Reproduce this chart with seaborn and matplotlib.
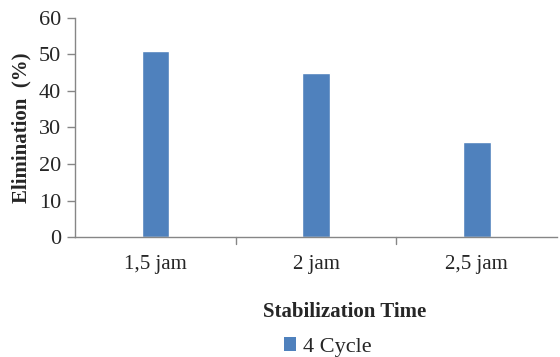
import matplotlib
matplotlib.use("Agg")
import matplotlib.pyplot as plt
import seaborn as sns
import pandas as pd
from matplotlib.patches import Patch

categories = ["1,5 jam", "2 jam", "2,5 jam"]
values = [51, 45, 26]
series_name = "4 Cycle"
yticks = [0, 10, 20, 30, 40, 50, 60]

sns.set_theme(style="white")
plt.rcParams["font.family"] = ["Liberation Serif", "DejaVu Serif"]

df = pd.DataFrame({"time": categories, "elim": values})

fig = plt.figure(figsize=(5.6, 3.57), dpi=100)
ax = fig.add_axes([0.134, 0.336, 0.861, 0.614])
bar_color = "#4F81BD"
sns.barplot(data=df, x="time", y="elim", color=bar_color, width=0.17,
            saturation=1, ax=ax)

ax.set_ylim(0, 60)
ax.set_xlim(-0.5, len(categories) - 0.5)
ax.set_yticks(yticks)
ax.set_yticklabels([str(t) for t in yticks], fontsize=16)
ax.set_xticks(range(len(categories)))
ax.set_xticklabels(categories, fontsize=15)
ax.tick_params(axis="x", length=0, pad=13)
ax.tick_params(axis="y", length=6, width=1, color="#868686", direction="out", pad=4, left=True)

# category boundary ticks on the x axis
for b in [0.5, 1.5]:
    ax.plot([b, b], [0, -1.8], color="#868686", lw=1, clip_on=False)

for side in ["top", "right"]:
    ax.spines[side].set_visible(False)
for side in ["left", "bottom"]:
    ax.spines[side].set_color("#868686")
    ax.spines[side].set_linewidth(1)

ax.set_xlabel("Stabilization Time", fontsize=15, fontweight="bold")
ax.xaxis.set_label_coords(0.56, -0.295)
ax.set_ylabel("Elimination  (%)", fontsize=15, fontweight="bold", labelpad=5)

handles = [Patch(facecolor=bar_color, edgecolor="none", label=series_name)]
fig.legend(handles=handles, loc="center", bbox_to_anchor=(0.585, 0.028),
           frameon=False, fontsize=16, handlelength=0.55, handleheight=0.55,
           handletextpad=0.3)

fig.savefig("out.png", dpi=100)
